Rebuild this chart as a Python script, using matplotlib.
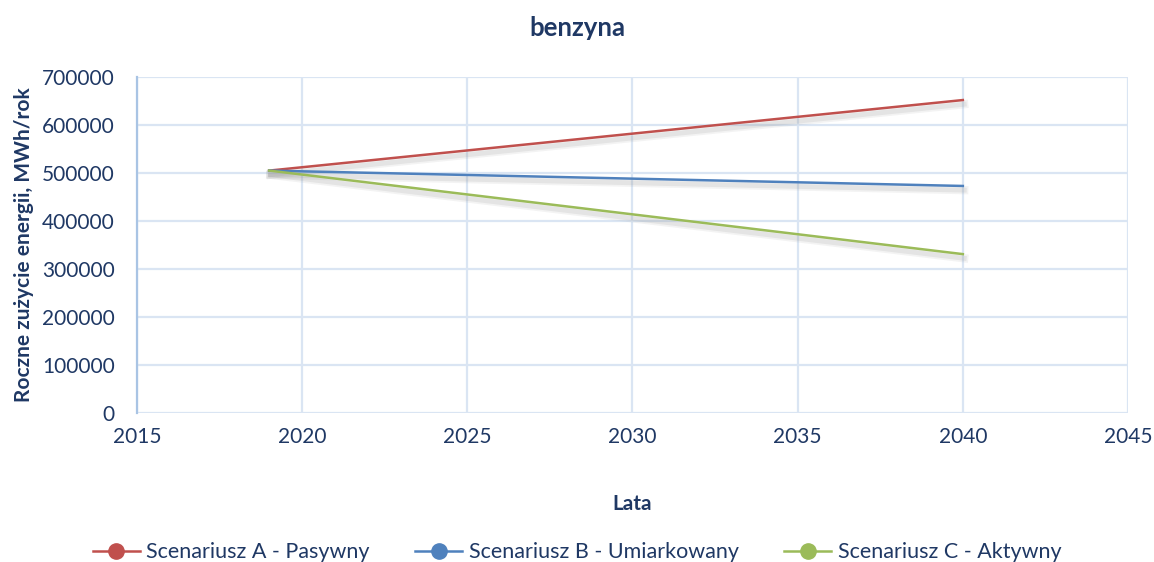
import matplotlib.pyplot as plt
import matplotlib.patheffects as pe

plt.rcParams["font.family"] = ["Lato", "DejaVu Sans"]

lata = [2019, 2040]
scenariusz_a = [505000, 652000]
scenariusz_b = [505000, 473000]
scenariusz_c = [505000, 331000]

serie = [
    ("Scenariusz A - Pasywny", scenariusz_a, "#c0504d"),
    ("Scenariusz B - Umiarkowany", scenariusz_b, "#4f81bd"),
    ("Scenariusz C - Aktywny", scenariusz_c, "#9bbb59"),
]

kolor_tekstu = "#1f3864"
kolor_siatki = "#dae5f3"

fig = plt.figure(figsize=(11.54, 5.62), dpi=100)
ax = fig.add_axes([137 / 1154, 1 - 413 / 562, (1128 - 137) / 1154, (413 - 77) / 562])

cien = [
    pe.SimpleLineShadow(offset=(1, -3), shadow_color="#909090", alpha=0.10, linewidth=6),
    pe.SimpleLineShadow(offset=(1, -3), shadow_color="#909090", alpha=0.15, linewidth=3.5),
    pe.Normal(),
]
for nazwa, wartosci, kolor in serie:
    ax.plot(lata, wartosci, color=kolor, lw=1.8, label=nazwa, path_effects=cien)

ax.set_xlim(2015, 2045)
ax.set_ylim(0, 700000)
ax.set_xticks(range(2015, 2046, 5))
ax.set_yticks(range(0, 700001, 100000))
ax.grid(True, color=kolor_siatki, lw=1.6)
ax.set_axisbelow(True)
for strona in ["top", "right", "bottom"]:
    ax.spines[strona].set_visible(False)
ax.spines["left"].set_color("#a9c4e4")
ax.spines["left"].set_linewidth(1.6)
ax.tick_params(length=0, labelsize=15, labelcolor=kolor_tekstu)
ax.tick_params(axis="y", pad=16)
ax.tick_params(axis="x", pad=10)

fig.suptitle("benzyna", x=0.5, y=1 - 28 / 562, va="center", fontsize=18.5,
             fontweight="bold", color=kolor_tekstu)
ax.set_xlabel("Lata", fontsize=15, fontweight="bold", color=kolor_tekstu, labelpad=34)
ax.set_ylabel("Roczne zużycie energii, MWh/rok", fontsize=15, fontweight="bold",
              color=kolor_tekstu, labelpad=6)

uchwyty = [plt.Line2D([], [], color=k, lw=1.8, marker="o", markersize=11) for _, _, k in serie]
fig.legend(uchwyty, [n for n, _, _ in serie], loc="lower center", bbox_to_anchor=(0.5, -0.035),
           ncol=3, frameon=False, fontsize=15.5, labelcolor=kolor_tekstu,
           handlelength=2.2, handletextpad=0.3, columnspacing=2.1)

fig.savefig("out.png", dpi=100)
